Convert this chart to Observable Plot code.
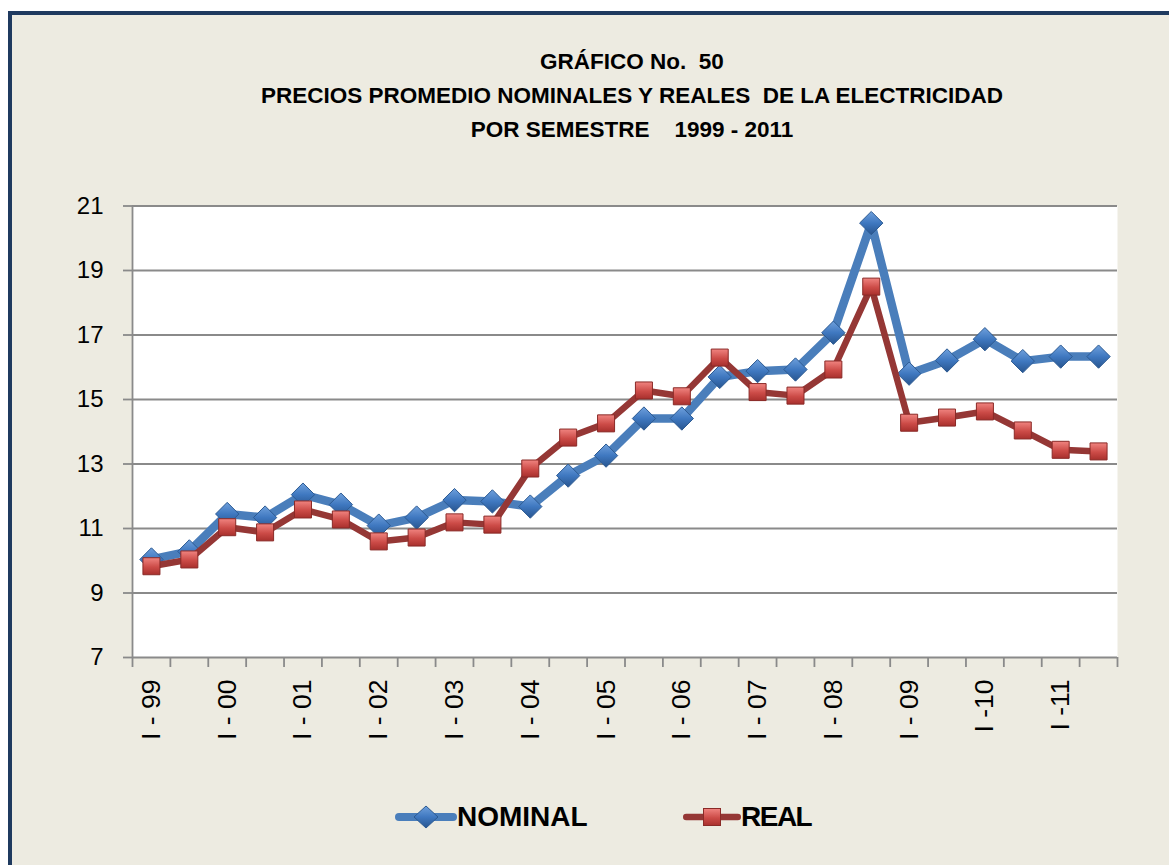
<!DOCTYPE html>
<html>
<head>
<meta charset="utf-8">
<script src="https://cdn.jsdelivr.net/npm/d3@7"></script>
<script src="https://cdn.jsdelivr.net/npm/@observablehq/plot@0.6"></script>
<style>
  html, body { margin: 0; padding: 0; background: #ffffff; overflow: hidden; }
  body { width: 1169px; height: 865px; position: relative; font-family: "Liberation Sans", Arial, sans-serif; }
  #frame { position: absolute; left: 8px; top: 11px; width: 1200px; height: 900px;
           border: 4px solid #1F3A5F; background: #EDEBE1; box-sizing: border-box; }
  #wrap { position: absolute; left: 0; top: 0; width: 1169px; height: 865px; }
  #title { height: 160px; box-sizing: border-box; padding-top: 45px; padding-left: 95px;
           text-align: center; font-weight: bold; font-size: 22.5px; line-height: 34px;
           white-space: pre; color: #000; }
  #chart { height: 600px; }
  #legend { position: relative; height: 105px; }
  .lg { position: absolute; top: 0; height: 105px; display: flex; align-items: center; }
  .lg span { font-weight: bold; font-size: 28px; color: #000; line-height: 1; margin-top: 8px; }
</style>
</head>
<body>
<svg width="0" height="0" style="position:absolute">
  <defs>
    <linearGradient id="gBlue" x1="0" y1="0" x2="0" y2="1">
      <stop offset="0" stop-color="#6FA0DC"/>
      <stop offset="0.5" stop-color="#3F78C0"/>
      <stop offset="1" stop-color="#28558F"/>
    </linearGradient>
    <linearGradient id="gRed" x1="0" y1="0" x2="0" y2="1">
      <stop offset="0" stop-color="#F08480"/>
      <stop offset="0.55" stop-color="#CC4B47"/>
      <stop offset="1" stop-color="#A8302D"/>
    </linearGradient>
  </defs>
</svg>
<div id="frame"></div>
<div id="wrap">
  <div id="title">GRÁFICO No.  50
PRECIOS PROMEDIO NOMINALES Y REALES  DE LA ELECTRICIDAD
POR SEMESTRE    1999 - 2011</div>
  <div id="chart"></div>
  <div id="legend"></div>
</div>
<script>
// ---- data ----
const semesters = [
  "I - 99","II - 99","I - 00","II - 00","I - 01","II - 01","I - 02","II - 02",
  "I - 03","II - 03","I - 04","II - 04","I - 05","II - 05","I - 06","II - 06",
  "I - 07","II - 07","I - 08","II - 08","I - 09","II - 09","I -10","II -10",
  "I -11","II -11"
];
const tickLabels = ["I - 99","I - 00","I - 01","I - 02","I - 03","I - 04","I - 05",
  "I - 06","I - 07","I - 08","I - 09","I -10","I -11"];
const nominal = [10.04,10.29,11.45,11.34,12.05,11.74,11.09,11.34,11.88,11.84,11.68,12.64,
  13.26,14.41,14.41,15.70,15.88,15.93,17.07,20.47,15.80,16.21,16.87,16.19,16.33,16.33];
const real = [9.83,10.04,11.04,10.88,11.59,11.28,10.60,10.72,11.19,11.12,12.86,13.82,
  14.26,15.28,15.10,16.30,15.23,15.12,15.93,18.50,14.28,14.44,14.63,14.04,13.44,13.39];
const yTicks = [7, 9, 11, 13, 15, 17, 19, 21];

// ---- build ----
const rows = semesters.map((s, i) => ({sem: s, pos: i + 0.5, nominal: nominal[i], real: real[i]}));
const labelRows = semesters.map((s, i) => ({label: s, pos: i + 0.5}))
  .filter(d => tickLabels.includes(d.label));
const n = semesters.length;

const grid = "#8A8A8A";
const chart = Plot.plot({
  width: 1169,
  height: 600,
  marginLeft: 132,
  marginRight: 52,
  marginTop: 45.5,
  marginBottom: 103,
  style: {background: "transparent", fontFamily: "'Liberation Sans', Arial, sans-serif", overflow: "visible", color: "#000"},
  x: {type: "linear", domain: [0, n], axis: null, label: null},
  y: {domain: [7, 21], axis: null, label: null},
  marks: [
    Plot.frame({fill: "white", stroke: "none"}),
    Plot.ruleY(yTicks, {stroke: grid, strokeWidth: 1.8}),
    Plot.ruleX([0], {stroke: grid, strokeWidth: 1.8}),
    Plot.axisY({ticks: yTicks, tickSize: 9, tickPadding: 20, fontSize: 24, label: null,
      stroke: grid, strokeWidth: 1.8, fill: "#000", tickFormat: d => String(d)}),
    Plot.axisX({ticks: d3.range(0, n + 1), tickSize: 10, tickFormat: () => "", label: null,
      stroke: grid, strokeWidth: 1.8}),
    Plot.text(labelRows, {x: "pos", text: "label", frameAnchor: "bottom", dy: 22,
      rotate: -90, textAnchor: "end", lineAnchor: "middle", fontSize: 26.5, fill: "#000"}),
    Plot.line(rows, {x: "pos", y: "nominal", stroke: "#4A7EBB", strokeWidth: 8.5, strokeLinejoin: "round"}),
    Plot.dot(rows, {x: "pos", y: "nominal", symbol: "diamond2", r: 10.5,
      fill: "url(#gBlue)", stroke: "#2C5A92", strokeWidth: 1}),
    Plot.line(rows, {x: "pos", y: "real", stroke: "#953735", strokeWidth: 6.5, strokeLinejoin: "round"}),
    Plot.dot(rows, {x: "pos", y: "real", symbol: "square", r: 9.6,
      fill: "url(#gRed)", stroke: "#8A2A27", strokeWidth: 1})
  ]
});
document.getElementById("chart").appendChild(chart);

// ---- legend ----
const legendItems = [
  {name: "NOMINAL", color: "#4A7EBB", width: 8, shape: "diamond", left: 395, sw: 62, ls: 0},
  {name: "REAL", color: "#953735", width: 6.5, shape: "square", left: 683, sw: 58, ls: -1.5}
];
const legend = document.getElementById("legend");
for (const it of legendItems) {
  const div = document.createElement("div");
  div.className = "lg";
  div.style.left = it.left + "px";
  const cx = it.sw / 2;
  const marker = it.shape === "diamond"
    ? `<path d="M${cx},0 L${cx + 12},11 L${cx},22 L${cx - 12},11 Z" fill="url(#gBlue)" stroke="#2C5A92" stroke-width="1"/>`
    : `<rect x="${cx - 8.5}" y="2.5" width="17" height="17" fill="url(#gRed)" stroke="#8A2A27" stroke-width="1"/>`;
  div.innerHTML = `<svg width="${it.sw}" height="22" style="margin-top:8px;overflow:visible">
      <line x1="${it.width / 2}" y1="11" x2="${it.sw - it.width / 2}" y2="11" stroke="${it.color}"
        stroke-width="${it.width}" stroke-linecap="round"/>${marker}</svg><span style="letter-spacing:${it.ls}px">${it.name}</span>`;
  legend.appendChild(div);
}
</script>
</body>
</html>
